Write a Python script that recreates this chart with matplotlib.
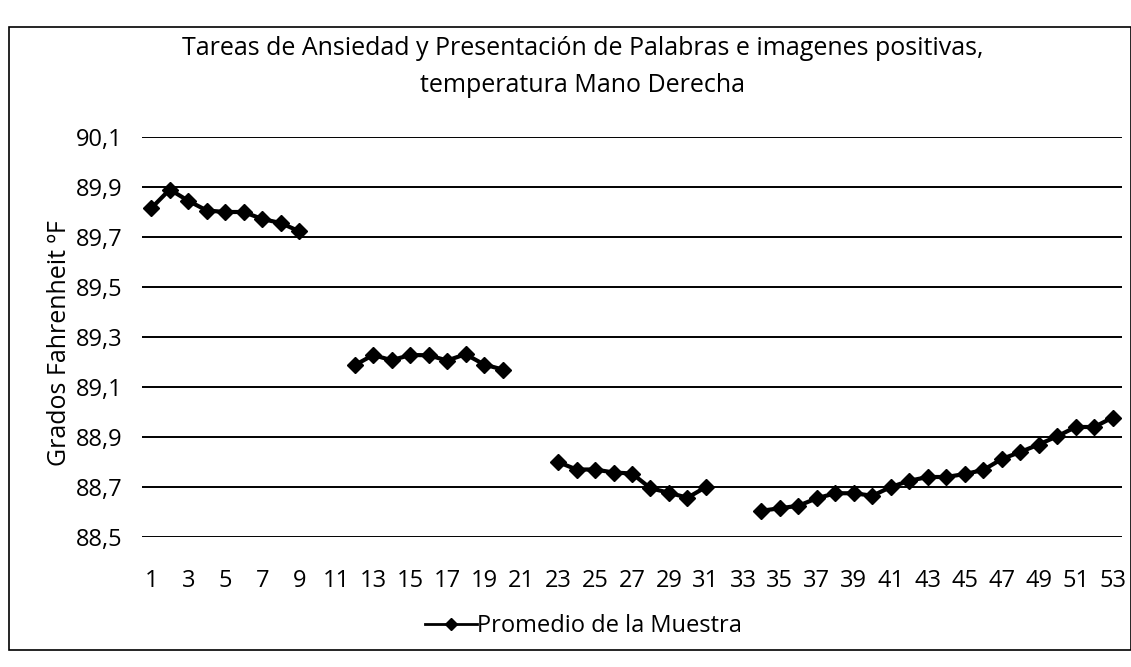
import matplotlib
matplotlib.use("Agg")
import matplotlib.pyplot as plt
import numpy as np
from matplotlib.patches import Rectangle

plt.rcParams['font.family'] = ['Open Sans', 'DejaVu Sans']

title = "Tareas de Ansiedad y Presentación de Palabras e imagenes positivas,\ntemperatura Mano Derecha"
ylabel = "Grados Fahrenheit ºF"
series_name = "Promedio de la Muestra"

categories = list(range(1, 54))
seg1 = [89.815, 89.89, 89.845, 89.806, 89.80, 89.80, 89.772, 89.756, 89.723]
seg2 = [89.187, 89.228, 89.207, 89.228, 89.227, 89.206, 89.231, 89.19, 89.17]
seg3 = [88.80, 88.77, 88.77, 88.758, 88.754, 88.695, 88.677, 88.657, 88.70]
seg4 = [88.605, 88.615, 88.625, 88.655, 88.675, 88.675, 88.665, 88.70, 88.725,
        88.74, 88.74, 88.752, 88.768, 88.812, 88.84, 88.87, 88.903, 88.94, 88.94, 88.978]
gap = [np.nan, np.nan]
values = seg1 + gap + seg2 + gap + seg3 + gap + seg4

yticks = [88.5, 88.7, 88.9, 89.1, 89.3, 89.5, 89.7, 89.9, 90.1]
ytick_labels = [f"{v:.1f}".replace('.', ',') for v in yticks]
xtick_labels = [str(c) for c in categories[::2]]

fig = plt.figure(figsize=(11.31, 6.67), dpi=100)
ax = fig.add_axes([142/1131, 1 - 537/667, (1122 - 142)/1131, (537 - 137)/667])

ax.plot(categories, values, color='black', lw=3, marker='D', markersize=8.5,
        markeredgecolor='black', markerfacecolor='black', label=series_name)

ax.set_xlim(0.5, 53.5)
ax.set_ylim(88.5, 90.1)
ax.set_yticks(yticks)
ax.set_yticklabels(ytick_labels, fontsize=17)
ax.set_xticks(categories[::2])
ax.set_xticklabels(xtick_labels, fontsize=17)
ax.tick_params(axis='both', length=0)
ax.tick_params(axis='y', pad=14)
ax.tick_params(axis='x', pad=23)
ax.grid(axis='y', color='black', lw=1.4)
ax.set_axisbelow(True)
for s in ax.spines.values():
    s.set_visible(False)

fig.text(59/1131, 1 - 343/667, ylabel, rotation=90, ha='center', va='center', fontsize=18)
fig.text(583/1131, 1 - 67/667, title, ha='center', va='center', fontsize=18, linespacing=1.6)

leg = fig.legend(loc='center', bbox_to_anchor=(583/1131, 1 - 626/667), frameon=False,
                 fontsize=17, handlelength=2.2, handletextpad=0.0)
for h in leg.legend_handles:
    h.set_markersize(6)
    h.set_linewidth(2)

fig.patches.append(Rectangle((9/1131, 1 - 650/667), (1131 - 9)/1131, (650 - 27)/667,
                             transform=fig.transFigure, fill=False, edgecolor='black', lw=1.2))

fig.savefig("out.png", dpi=100, facecolor='white')
